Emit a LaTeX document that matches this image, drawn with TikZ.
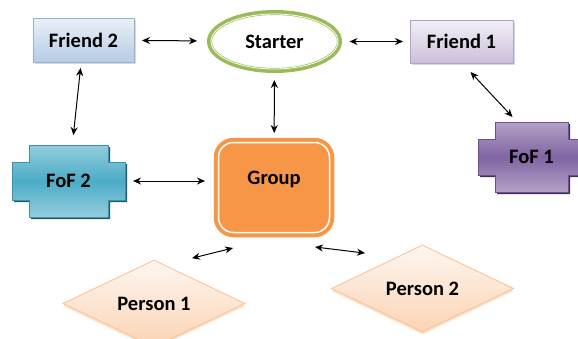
\documentclass[tikz,border=0pt]{standalone}
\usepackage{fontspec}
\setmainfont{Carlito}
\usetikzlibrary{arrows.meta,calc,shadows,backgrounds,shapes.geometric}
\definecolor{ftwotop}{HTML}{EAF0F8}
\definecolor{ftwobot}{HTML}{B7CBE4}
\definecolor{ftwoline}{HTML}{95B3D7}
\definecolor{fonetop}{HTML}{F3EFF7}
\definecolor{fonebot}{HTML}{CBBFDA}
\definecolor{foneline}{HTML}{B3A2C7}
\definecolor{tealtop}{HTML}{93CDDD}
\definecolor{tealmid}{HTML}{4BACC6}
\definecolor{tealline}{HTML}{3A93AB}
\definecolor{tealdark}{HTML}{215968}
\definecolor{plumtop}{HTML}{B3A2C7}
\definecolor{plummid}{HTML}{8064A2}
\definecolor{plumline}{HTML}{6B5087}
\definecolor{plumdark}{HTML}{3F3151}
\definecolor{grouporange}{HTML}{F79646}
\definecolor{peachtop}{HTML}{FEF6F0}
\definecolor{peachbot}{HTML}{FBD4B4}
\definecolor{peachline}{HTML}{FAC090}
\definecolor{startgreen}{HTML}{9BBB59}
\tikzset{
  box/.style={font=\bfseries\fontsize{20.5}{24}\selectfont, inner sep=0pt, outer sep=0pt},
  friend/.style={box, rectangle, line width=0.8pt, minimum height=44pt,
    drop shadow={shadow xshift=1.5pt, shadow yshift=-1.5pt, opacity=0.3}},
  person/.style={box, diamond, line width=0.8pt, top color=peachtop, bottom color=peachbot,
    draw=peachline, minimum width=182pt, minimum height=67pt,
    drop shadow={shadow xshift=0pt, shadow yshift=-2.5pt, opacity=1, fill=peachline!45}},
  fof/.style={box, rectangle, minimum height=72pt},
  link/.style={<->, >={Stealth[length=8pt,width=7pt]}, line width=1pt},
}
\newcommand{\crossoutline}[1]{%
  ($(#1.north west)+(17pt,0pt)$) -- ($(#1.north east)+(-17pt,0pt)$) --
  ($(#1.north east)+(-17pt,-17pt)$) -- ($(#1.north east)+(0pt,-17pt)$) --
  ($(#1.south east)+(0pt,17pt)$) -- ($(#1.south east)+(-17pt,17pt)$) --
  ($(#1.south east)+(-17pt,0pt)$) -- ($(#1.south west)+(17pt,0pt)$) --
  ($(#1.south west)+(17pt,17pt)$) -- ($(#1.south west)+(0pt,17pt)$) --
  ($(#1.north west)+(0pt,-17pt)$) -- ($(#1.north west)+(17pt,-17pt)$) -- cycle}

\begin{document}
\begin{tikzpicture}[x=1pt,y=-1pt]
  \useasboundingbox (0,0) rectangle (578,338);
  \node[friend, minimum width=101pt, top color=ftwotop, bottom color=ftwobot, draw=ftwoline] (friend2) at (83.5,40) {Friend 2};
  \node[box, ellipse, draw=startgreen, line width=5pt, fill=white, minimum width=130pt, minimum height=58pt] (starter) at (274.5,41.5) {Starter};
  \draw[white, line width=0.8pt] (starter.center) ellipse [x radius=63.5pt, y radius=27.5pt];
  \node[friend, minimum width=103pt, minimum height=43pt, top color=fonetop, bottom color=fonebot, draw=foneline] (friend1) at (461.5,41.5) {Friend 1};
  \node[fof, minimum width=113pt] (fof2) at (68.5,181) {FoF 2};
  \node[fof, minimum width=107pt, minimum height=70pt] (fof1) at (531.5,157) {FoF 1};
  \node[box, rectangle, rounded corners=15pt, fill=grouporange, draw=grouporange, line width=4pt,
    double=white, double distance=1.5pt, minimum width=111pt, minimum height=90pt, text depth=20pt] (group) at (274,187.5) {Group};
  \node[person] (person1) at (154,303.5) {Person 1};
  \node[person] (person2) at (422.5,288.5) {Person 2};
  \begin{pgfonlayer}{background}
    \fill[tealdark, transform canvas={shift={(2pt,-2pt)}}] \crossoutline{fof2};
    \shadedraw[top color=tealtop, bottom color=tealtop, middle color=tealmid, draw=tealline, line width=0.8pt] \crossoutline{fof2};
    \fill[plumdark, transform canvas={shift={(2pt,-2pt)}}] \crossoutline{fof1};
    \shadedraw[top color=plumtop, bottom color=plumtop, middle color=plummid, draw=plumline, line width=0.8pt] \crossoutline{fof1};
  \end{pgfonlayer}
  \draw[link, shorten <=8pt, shorten >=12.5pt] (friend2) -- (starter);
  \draw[link, shorten <=10pt, shorten >=7pt] (starter) -- (friend1);
  \draw[link, shorten <=9.5pt, shorten >=9.5pt] (starter) -- (group);
  \draw[link, shorten <=6pt, shorten >=10pt] (friend2) -- (fof2);
  \draw[link] ([xshift=9pt,yshift=-9pt]friend1.south) -- ([xshift=-19pt,yshift=5pt]fof1.north);
  \draw[link, shorten <=8pt, shorten >=13.5pt] (fof2.east) -- (fof2.east -| group.west);
  \draw[link] ([xshift=-41pt,yshift=-15.5pt]group.south) -- ([xshift=38pt,yshift=2pt]person1.north);
  \draw[link] ([xshift=41pt,yshift=-14.5pt]group.south) -- ([xshift=-57.5pt,yshift=-8pt]person2.north);
\end{tikzpicture}
\end{document}
